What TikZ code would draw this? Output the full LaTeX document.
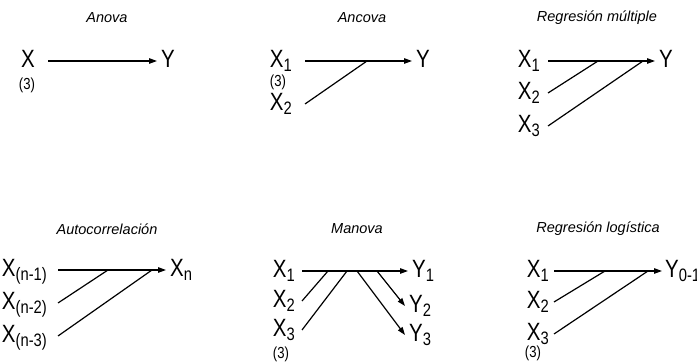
\documentclass[tikz,border=0pt]{standalone}
\usepackage{fontspec}
\setmainfont{Liberation Sans}
\newfontfamily\narrowfont[FakeStretch=0.82]{Liberation Sans}
\usetikzlibrary{arrows.meta}
\newcommand{\vsub}[1]{\raisebox{-4pt}{\fontsize{18}{18}\selectfont #1}}

\begin{document}
\begin{tikzpicture}[
    x=1pt, y=-1pt,
    ttl/.style={font=\fontsize{14.5}{17}\selectfont\itshape, inner sep=0},
    pred/.style={font=\narrowfont\fontsize{25}{30}\selectfont, inner ysep=0, inner xsep=8pt, text height=14pt, text depth=0pt, anchor=east},
    resp/.style={pred, inner xsep=4pt, anchor=west},
    cnt/.style={font=\narrowfont\fontsize{16}{18}\selectfont, inner sep=0},
    arr/.style={line width=1.2pt, -{Triangle[length=8pt,width=5.5pt]}},
    lnk/.style={line width=1.2pt}
]
\clip (0,0) rectangle (697,363);

% =============================
% 1. Anova
% =============================
\begin{scope}[shift={(0,0)}, pred/.append style={inner xsep=13pt}]
\node[ttl] (t1) at (107,18) {Anova};
\node[pred] (x) at (48,61) {X};
\node[cnt] (n3) at (27,85) {(3)};
\node[resp] (y) at (157,61) {Y};
\draw[arr] (x.east) -- (y.west);
\end{scope}

% =============================
% 2. Ancova
% =============================
\begin{scope}[shift={(250,0)}, pred/.append style={inner xsep=13pt}]
\node[ttl] (t2) at (112,18) {Ancova};
\node[pred] (x1) at (55,61) {X\vsub{1}};
\node[cnt] (n3) at (28,82) {(3)};
\node[pred] (x2) at (55,104) {X\vsub{2}};
\node[resp] (y) at (162,61) {Y};
\coordinate (j1) at (117,61);
\draw[arr] (x1.east) -- (y.west);
\draw[lnk] (x2.east) -- (j1);
\end{scope}

% =============================
% 3. Regresion multiple
% =============================
\begin{scope}[shift={(490,0)}, pred/.append style={inner xsep=8pt}]
\node[ttl] (t3) at (107,18) {Regresión múltiple};
\node[pred] (x1) at (58,61) {X\vsub{1}};
\node[pred] (x2) at (58,93) {X\vsub{2}};
\node[pred] (x3) at (58,126) {X\vsub{3}};
\node[resp] (y) at (165,61) {Y};
\coordinate (j1) at (108,61);
\coordinate (j2) at (153,61);
\draw[arr] (x1.east) -- (y.west);
\draw[lnk] (x2.east) -- (j1);
\draw[lnk] (x3.east) -- (j2);
\end{scope}

% =============================
% 4. Autocorrelacion
% =============================
\begin{scope}[shift={(0,210)}, pred/.append style={inner xsep=11pt}]
\node[ttl] (t4) at (107,19) {Autocorrelación};
\node[pred] (x1) at (58,60) {X\vsub{(n-1)}};
\node[pred] (x2) at (58,93) {X\vsub{(n-2)}};
\node[pred] (x3) at (58,126) {X\vsub{(n-3)}};
\node[resp] (y) at (166,60) {X\vsub{n}};
\coordinate (j1) at (108,60);
\coordinate (j2) at (152,60);
\draw[arr] (x1.east) -- (y.west);
\draw[lnk] (x2.east) -- (j1);
\draw[lnk] (x3.east) -- (j2);
\end{scope}

% =============================
% 5. Manova
% =============================
\begin{scope}[shift={(250,210)}, pred/.append style={inner xsep=7pt}]
\node[ttl] (t5) at (107,19) {Manova};
\node[pred] (x1) at (52,61) {X\vsub{1}};
\node[pred] (x2) at (52,91) {X\vsub{2}};
\node[pred] (x3) at (52,120) {X\vsub{3}};
\node[cnt] (n3) at (31,144) {(3)};
\node[resp] (y1) at (158,61) {Y\vsub{1}};
\node[resp] (y2) at (155,96) {Y\vsub{2}};
\node[resp] (y3) at (155,125) {Y\vsub{3}};
\coordinate (j1) at (78,61);
\coordinate (j2) at (97,61);
\coordinate (k1) at (107,61);
\coordinate (k2) at (127,61);
\draw[arr] (x1.east) -- (y1.west);
\draw[lnk] (x2.east) -- (j1);
\draw[lnk] (x3.east) -- (j2);
\draw[arr] (k1) -- (y3.west);
\draw[arr] (k2) -- (y2.west);
\end{scope}

% =============================
% 6. Regresion logistica
% =============================
\begin{scope}[shift={(490,210)}, pred/.append style={inner xsep=5pt}]
\node[ttl] (t6) at (108,19) {Regresión logística};
\node[pred] (x1) at (64,61) {X\vsub{1}};
\node[pred] (x2) at (64,92) {X\vsub{2}};
\node[pred] (x3) at (64,124) {X\vsub{3}};
\node[cnt] (n3) at (43,143) {(3)};
\node[resp, inner xsep=3pt] (y) at (172,61) {Y\vsub{0-1}};
\coordinate (j1) at (115,61);
\coordinate (j2) at (158,61);
\draw[arr] (x1.east) -- (y.west);
\draw[lnk] (x2.east) -- (j1);
\draw[lnk] (x3.east) -- (j2);
\end{scope}
\end{tikzpicture}
\end{document}
